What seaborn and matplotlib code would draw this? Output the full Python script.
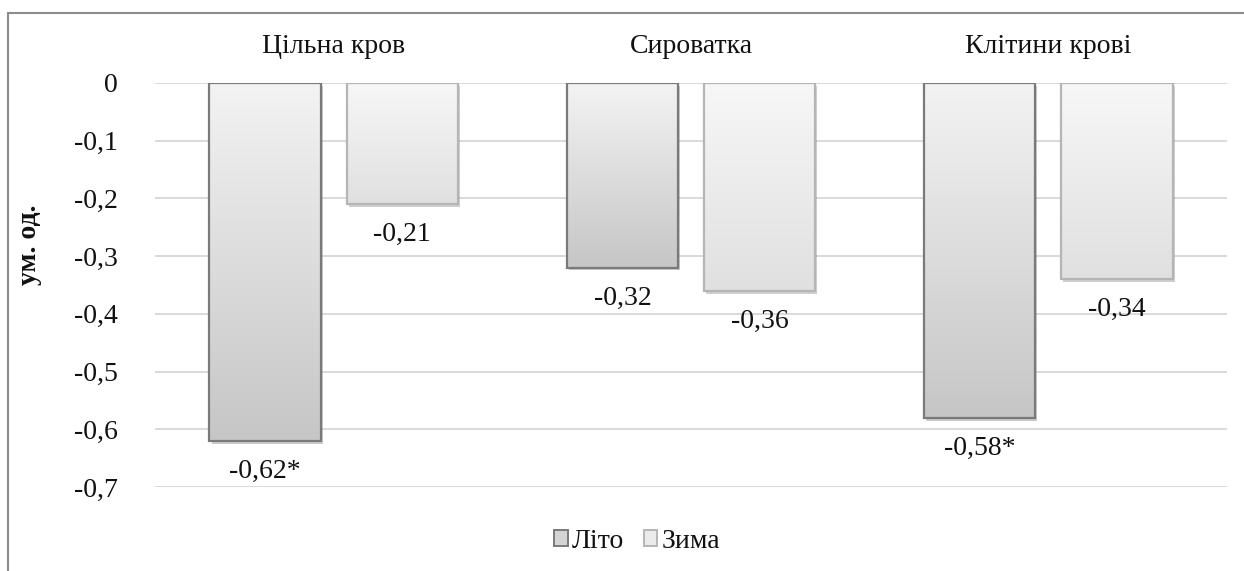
import numpy as np
import pandas as pd
import matplotlib
matplotlib.use("Agg")
import matplotlib.pyplot as plt
import seaborn as sns
from matplotlib.colors import LinearSegmentedColormap
from matplotlib.patches import Patch, Rectangle
from matplotlib.lines import Line2D
from matplotlib import patheffects as pe

# --- data ---
categories = ["Цільна кров", "Сироватка", "Клітини крові"]
seasons = ["Літо", "Зима"]
summer = [-0.62, -0.32, -0.58]
winter = [-0.21, -0.36, -0.34]
summer_sig = [True, False, True]
winter_sig = [False, False, False]
y_ticks = [0, -0.1, -0.2, -0.3, -0.4, -0.5, -0.6, -0.7]
y_label = "ум. од."

df = pd.DataFrame({
    "category": categories * 2,
    "season": [seasons[0]] * 3 + [seasons[1]] * 3,
    "value": summer + winter,
    "sig": summer_sig + winter_sig,
})

sns.set_theme(style="white")
plt.rcParams["font.family"] = ["Liberation Serif", "DejaVu Serif"]

W, H = 1244, 571
fig = plt.figure(figsize=(W / 100, H / 100), dpi=100)
left, right, top, bottom = 155, 1227, 83, 487
ax = fig.add_axes([left / W, 1 - bottom / H, (right - left) / W, (bottom - top) / H])

styles = {
    "Літо": dict(top="#f3f3f3", bottom="#c6c6c6", edge="#7a7a7a", solid="#d4d4d4"),
    "Зима": dict(top="#f7f7f7", bottom="#e0e0e0", edge="#b5b5b5", solid="#ebebeb"),
}

group_width = 0.768
sns.barplot(data=df, x="category", y="value", hue="season", order=categories,
            hue_order=seasons, palette={s: styles[s]["solid"] for s in seasons},
            width=group_width, gap=0.19, legend=False, ax=ax, linewidth=0, zorder=2)

ax.set_xlim(-0.5, len(categories) - 0.5)
ax.set_ylim(-0.7, 0)

# vertical gradient fill, soft shadow and outline for each bar
grad = np.linspace(0, 1, 256).reshape(-1, 1)
for patch in list(ax.patches):
    bb = patch.get_bbox()
    x0, x1 = min(bb.x0, bb.x1), max(bb.x0, bb.x1)
    y0, y1 = min(bb.y0, bb.y1), max(bb.y0, bb.y1)
    if abs(y1 - y0) < 1e-9:
        continue
    cx = (x0 + x1) / 2
    season = seasons[0] if cx < round(cx) else seasons[1]
    st = styles[season]
    patch.set_path_effects([pe.SimplePatchShadow(offset=(1.5, -2.0), alpha=0.35, rho=0.5),
                            pe.Normal()])
    cmap = LinearSegmentedColormap.from_list("g", [st["bottom"], st["top"]])
    im = ax.imshow(grad, cmap=cmap, aspect="auto", extent=[x0, x1, y0, y1],
                   origin="lower", zorder=2.5)
    im.set_clip_path(patch)
    ax.add_patch(Rectangle((x0, y0), x1 - x0, y1 - y0, facecolor="none",
                           edgecolor=st["edge"], linewidth=1.6, zorder=3))

ax.set_xlim(-0.5, len(categories) - 0.5)
ax.set_ylim(-0.7, 0)

# value labels below the bars
slot = group_width / 2
for _, row in df.iterrows():
    ci = categories.index(row["category"])
    si = seasons.index(row["season"])
    xc = ci + (si - 0.5) * slot
    txt = f"{row['value']:.2f}".replace(".", ",") + ("*" if row["sig"] else "")
    ax.annotate(txt, xy=(xc, row["value"]), xytext=(0, -22), textcoords="offset points",
                ha="center", va="center", fontsize=20, color="#111111")

# axes styling
ax.set_yticks(y_ticks)
ax.set_yticklabels([("0" if v == 0 else f"{v:.1f}".replace(".", ",")) for v in y_ticks])
ax.yaxis.grid(True, color="#d9d9d9", linewidth=1.4)
ax.xaxis.grid(False)
ax.set_axisbelow(True)
for s in ax.spines.values():
    s.set_visible(False)
ax.xaxis.tick_top()
ax.tick_params(axis="x", length=0, pad=17, labelsize=20, labelcolor="#111111")
ax.tick_params(axis="y", length=0, pad=27, labelsize=20, labelcolor="#111111")
ax.set_xlabel("")
ax.set_ylabel(y_label, fontsize=20, fontweight="bold", color="#111111")
ax.yaxis.set_label_coords((42 - left) / (right - left), (bottom - 245) / (bottom - top))

# legend
handles = [Patch(facecolor=styles[s]["solid"], edgecolor=styles[s]["edge"], linewidth=1.4)
           for s in seasons]
fig.legend(handles, seasons, loc="center", bbox_to_anchor=(637 / W, 1 - 541 / H),
           ncol=2, frameon=False, fontsize=20, handlelength=0.5, handleheight=0.5,
           handletextpad=0.15, columnspacing=0.7, labelcolor="#111111")

# chart frame
fig.add_artist(Line2D([8 / W, 8 / W], [0, 1 - 13 / H], color="#8c8c8c", linewidth=1.5,
                      transform=fig.transFigure))
fig.add_artist(Line2D([8 / W, 1], [1 - 13 / H, 1 - 13 / H], color="#8c8c8c", linewidth=1.5,
                      transform=fig.transFigure))

fig.savefig("out.png", dpi=100)
